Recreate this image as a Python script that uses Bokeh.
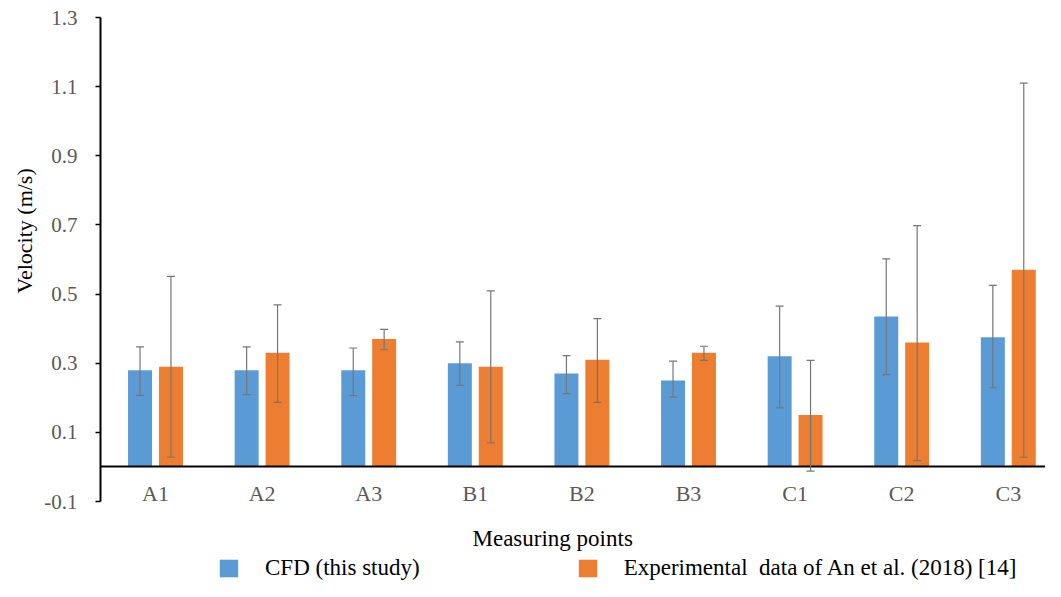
from bokeh.plotting import figure
from bokeh.layouts import column
from bokeh.models import (ColumnDataSource, Range1d, FixedTicker, LinearAxis,
                          Whisker, TeeHead, Legend, LegendItem, Title, Label)
from bokeh.transform import dodge
from bokeh.embed import file_html
from bokeh.resources import INLINE

categories = ["A1", "A2", "A3", "B1", "B2", "B3", "C1", "C2", "C3"]
cfd = [0.28, 0.28, 0.28, 0.30, 0.27, 0.25, 0.32, 0.435, 0.375]
cfd_lower = [0.207, 0.209, 0.206, 0.236, 0.212, 0.202, 0.171, 0.267, 0.229]
cfd_upper = [0.347, 0.347, 0.344, 0.362, 0.322, 0.306, 0.465, 0.602, 0.525]
exp = [0.29, 0.33, 0.37, 0.29, 0.31, 0.33, 0.15, 0.36, 0.57]
exp_lower = [0.028, 0.187, 0.339, 0.070, 0.187, 0.308, -0.012, 0.018, 0.028]
exp_upper = [0.551, 0.469, 0.398, 0.509, 0.429, 0.349, 0.308, 0.698, 1.110]
y_ticks = [-0.1, 0.1, 0.3, 0.5, 0.7, 0.9, 1.1, 1.3]
y_tick_labels = ["-0.1", "0.1", "0.3", "0.5", "0.7", "0.9", "1.1", "1.3"]
series_names = ["CFD (this study)", "Experimental  data of An et al. (2018) [14]"]
x_title = "Measuring points"
y_title = "Velocity (m/s)"

BLUE = "#5B9BD5"
ORANGE = "#ED7D31"
ERR = "#767676"
FONT = "Liberation Serif"

xpos = [i + 0.5 for i in range(len(categories))]
src = ColumnDataSource(dict(x=xpos, cfd=cfd, cfd_lo=cfd_lower, cfd_hi=cfd_upper,
                            exp=exp, exp_lo=exp_lower, exp_hi=exp_upper))

p = figure(width=1045, height=515, x_range=Range1d(-0.016, 8.849),
           y_range=Range1d(-0.1, 1.3), output_backend="svg",
           toolbar_location=None, x_axis_location=None,
           min_border_left=100, min_border_right=0, min_border_top=17,
           min_border_bottom=14)
p.grid.visible = False
p.outline_line_color = None
p.background_fill_color = "white"

off = 0.145
bw = 0.225
r1 = p.vbar(x=dodge("x", -off), top="cfd", bottom=0, width=bw, source=src,
            fill_color=BLUE, line_color=None)
r2 = p.vbar(x=dodge("x", off), top="exp", bottom=0, width=bw, source=src,
            fill_color=ORANGE, line_color=None)

for base, lo, hi in [(dodge("x", -off), "cfd_lo", "cfd_hi"),
                     (dodge("x", off), "exp_lo", "exp_hi")]:
    w = Whisker(source=src, base=base, lower=lo, upper=hi,
                line_color=ERR, line_width=1.2, level="overlay",
                upper_head=TeeHead(size=8, line_color=ERR, line_width=1.2),
                lower_head=TeeHead(size=8, line_color=ERR, line_width=1.2))
    p.add_layout(w)

# y axis
ya = p.yaxis[0]
ya.ticker = FixedTicker(ticks=y_ticks)
ya.major_label_overrides = dict(zip(y_ticks, y_tick_labels))
ya.axis_line_color = "black"
ya.axis_line_width = 2
ya.major_tick_in = 0
ya.major_tick_out = 5
ya.major_tick_line_width = 1.5
ya.major_tick_line_color = "black"
ya.minor_tick_in = 0
ya.minor_tick_out = 0
ya.major_label_standoff = 18
ya.major_label_text_font = FONT
ya.major_label_text_font_size = "21px"
ya.major_label_text_color = "#595959"

# category axis at y = 0
xa = LinearAxis(fixed_location=0, ticker=FixedTicker(ticks=xpos),
                major_label_overrides=dict(zip(xpos, categories)),
                axis_line_color="black", axis_line_width=2,
                major_tick_in=0, major_tick_out=0, minor_tick_in=0, minor_tick_out=0,
                major_label_standoff=14, major_label_text_font=FONT,
                major_label_text_font_size="22px", major_label_text_color="#595959")
p.add_layout(xa, "below")

p.add_layout(Title(text=y_title, align="left", offset=208, standoff=10,
                   text_font=FONT, text_font_size="22px", text_font_style="normal",
                   text_color="black"), "left")

# strip below: x title and legend
lg = figure(width=1045, height=66, x_range=Range1d(0, 945), y_range=Range1d(0, 66),
            output_backend="svg", toolbar_location=None,
            x_axis_location=None, y_axis_location=None,
            min_border_left=0, min_border_right=0, min_border_top=0, min_border_bottom=0)
lg.grid.visible = False
lg.outline_line_color = None
lg.add_layout(Label(x=372, y=43, text=x_title, text_align="left",
                    text_baseline="alphabetic", text_font=FONT,
                    text_font_size="23px", text_color="black"))
l1 = lg.vbar(x=[-50], top=[-50], width=1, fill_color=BLUE, line_color=None)
l2 = lg.vbar(x=[-50], top=[-50], width=1, fill_color=ORANGE, line_color=None)
legend = Legend(items=[LegendItem(label=series_names[0], renderers=[l1]),
                       LegendItem(label=series_names[1], renderers=[l2])],
                location=(117, 0), orientation="horizontal", padding=0, margin=0,
                spacing=156, border_line_color=None, background_fill_alpha=0,
                glyph_width=23, glyph_height=22, label_standoff=25,
                label_text_font=FONT, label_text_font_size="23px",
                label_text_color="black")
lg.add_layout(legend)

open("out.html", "w").write(file_html(column(p, lg), INLINE))
